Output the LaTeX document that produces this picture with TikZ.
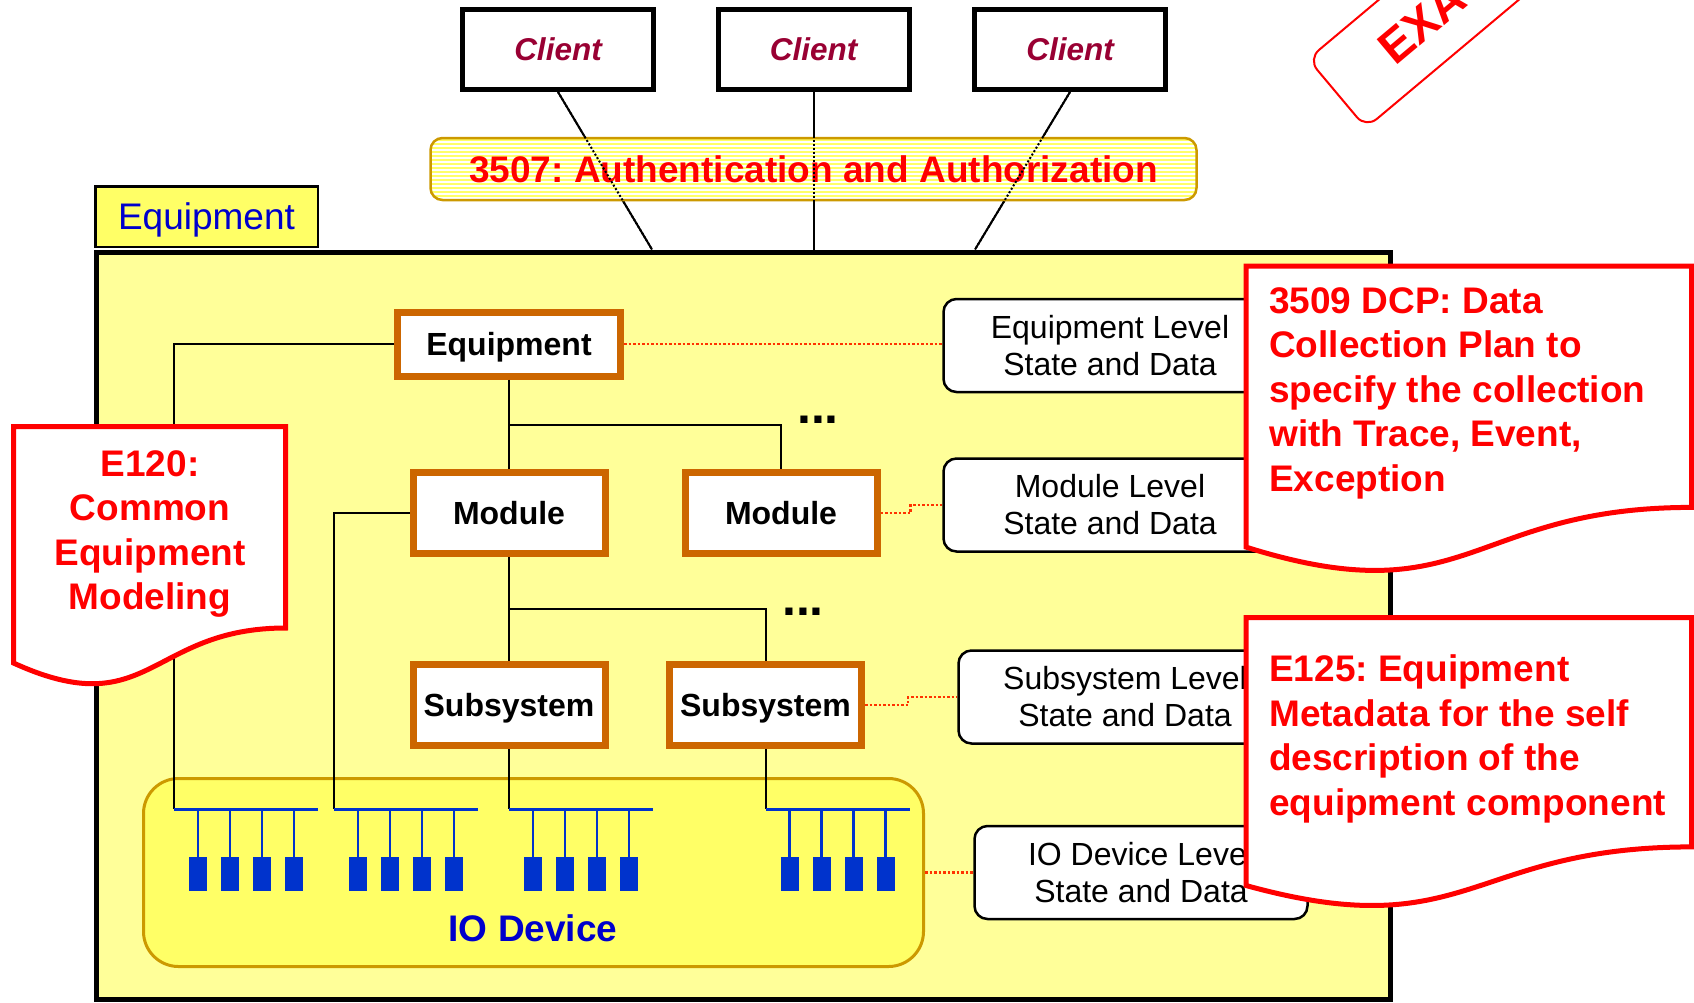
\documentclass[tikz,border=0pt]{standalone}
\usepackage{fontspec}
\setmainfont{Liberation Sans}
\usepackage{tikz}
\usetikzlibrary{positioning,calc}
\frenchspacing

\definecolor{frameyellow}{HTML}{FFFF99}
\definecolor{tabyellow}{HTML}{FFFF66}
\definecolor{goldline}{HTML}{CC9900}
\definecolor{nodeorange}{HTML}{CC6600}
\definecolor{clientred}{HTML}{990033}
\definecolor{notered}{HTML}{FF0000}
\definecolor{linkred}{HTML}{FF3300}
\definecolor{busblue}{HTML}{0033CC}
\definecolor{textblue}{HTML}{0000CC}

\tikzset{
  clientbox/.style={draw, line width=5, fill=white, minimum width=191, minimum height=80, text depth=0pt, text=clientred, font=\fontsize{31.5}{38}\selectfont\bfseries\itshape},
  partbox/.style={draw=nodeorange, line width=7, fill=white, minimum width=192, minimum height=81, text depth=0pt, font=\fontsize{32}{38}\selectfont\bfseries},
  lvlbox/.style={draw, line width=2.5, fill=white, rounded corners=13, minimum width=333, minimum height=93, align=center, font=\fontsize{32}{37}\selectfont},
  treeline/.style={line width=2},
  reddots/.style={draw=linkred, line width=2.5, dotted},
  notebox/.style={draw=notered, line width=5, fill=white},
  notetext/.style={text=notered, inner sep=0, font=\fontsize{37}{44.6}\selectfont\bfseries},
  iobus/.style={draw=busblue, line width=3},
  iostem/.style={draw=busblue, line width=2.5},
  moredots/.style={anchor=base, font=\fontsize{50}{50}\selectfont\bfseries},
}

\begin{document}
\begin{tikzpicture}[x=1pt, y=-1pt]
    \useasboundingbox (0,0) rectangle (1694,1002);
    \clip (0,0) rectangle (1694,1002);

    % Equipment frame
    \node [draw, line width=2.5, fill=tabyellow, minimum width=222.5, minimum height=60.5, anchor=south west, text depth=0pt, text=textblue, font=\fontsize{37}{44}\selectfont] (tab) at (94,248) {Equipment};
    \node [draw, line width=5, fill=frameyellow, minimum width=1294.5, minimum height=747.5, anchor=north west] (frame) at (93.5,249.5) {};

    % Clients
    \node [clientbox] (c1) at (558,49.5) {Client};
    \node [clientbox] (c2) at (813.5,49.5) {Client};
    \node [clientbox] (c3) at (1070,49.5) {Client};
    \coordinate (t1) at (652,249.5);
    \coordinate (t2) at (813.5,249.5);
    \coordinate (t3) at (975,249.5);
    \foreach \i in {1,2,3} \draw [line width=2] (c\i.south) -- (t\i);

    % Authentication layer
    \node [draw=goldline, line width=2.5, fill=tabyellow, rounded corners=12, minimum width=766, minimum height=62, text=notered, font=\fontsize{37}{44}\selectfont\bfseries,
           path picture={\foreach \k in {0,...,16} \draw [white, line width=1.2] ([yshift=-4*\k]path picture bounding box.north west) -- ([yshift=-4*\k]path picture bounding box.north east);}] (auth) at (813.5,169) {3507: Authentication and Authorization};
    \foreach \i in {1,2,3} \draw [line width=2, dotted] (c\i.south) -- (t\i);

    % IO devices
    \node [draw=goldline, line width=3, fill=tabyellow, rounded corners=35, minimum width=780, minimum height=188] (iobox) at (533.5,872.5) {};
    \node [text=textblue, font=\fontsize{37}{44}\selectfont\bfseries] (iolabel) at (533,928) {IO Device};

    % Equipment tree
    \node [partbox, minimum width=223, minimum height=64] (equip) at (509,344) {Equipment};
    \node [partbox] (mod1) at (509,513) {Module};
    \node [partbox] (mod2) at (781,513) {Module};
    \node [partbox] (sub1) at (509,705) {Subsystem};
    \node [partbox] (sub2) at (765.5,705) {Subsystem};
    \coordinate (j1) at (509,425);
    \coordinate (j2) at (509,609);
    \draw [treeline] (equip.south) -- (mod1.north);
    \draw [treeline] (j1) -| (mod2.north);
    \draw [treeline] (mod1.south) -- (sub1.north);
    \draw [treeline] (j2) -| (sub2.north);
    \node [moredots] (more1) at (818,423.5) {...};
    \node [moredots] (more2) at (803,615.5) {...};

    % Buses to the IO devices
    \coordinate (bus1) at (174,809);
    \coordinate (bus2) at (334,809);
    \coordinate (bus3) at (509,809);
    \coordinate (bus4) at (765.5,809);
    \draw [treeline] (equip.west) -| (bus1);
    \draw [treeline] (mod1.west) -| (bus2);
    \draw [treeline] (sub1.south) -- (bus3);
    \draw [treeline] (sub2.south) -- (bus4);
    \foreach \b in {1,...,4} {
        \draw [iobus] (bus\b) -- ++(144,0);
        \foreach \k in {24,56,88,120} {
            \draw [iostem] ($(bus\b)+(\k,0)$) -- ++(0,48);
            \fill [busblue] ($(bus\b)+(\k-9,48)$) rectangle ++(18,34);
        }
    }

    % State and data per level
    \node [lvlbox] (lvleq) at (1110,345.5) {Equipment Level\\State and Data};
    \node [lvlbox] (lvlmod) at (1110,505) {Module Level\\State and Data};
    \node [lvlbox] (lvlsub) at (1125,697) {Subsystem Level\\State and Data};
    \node [lvlbox] (lvlio) at (1141,872.5) {IO Device Level\\State and Data};
    \draw [reddots] (equip.east) -- (equip.east -| lvleq.west);
    \draw [reddots] (mod2.east) -- ++(30,0) |- (lvlmod.west);
    \draw [reddots] (sub2.east) -- ++(43,0) |- (lvlsub.west);
    \draw [reddots] (iobox.east) -- (lvlio.west);

    % Standards notes
    \draw [notebox] (13.5,426.5) -- (285.5,426.5) -- (285.5,628) .. controls (149.5,628) and (149.5,725) .. (13.5,663) -- cycle;
    \node [notetext, align=center, anchor=north] (e120) at (150,450) {E120:\\Common\\Equipment\\Modeling};

    \draw [notebox] (1246,266) -- (1691.5,266) -- (1691.5,507.4) .. controls (1468.8,507.4) and (1468.8,617) .. (1246,547.1) -- cycle;
    \node [notetext, align=left, anchor=north west] (dcp) at (1269,287) {3509 DCP: Data\\Collection Plan to\\specify the collection\\with Trace, Event,\\Exception};

    \draw [notebox] (1246,617.5) -- (1691.5,617.5) -- (1691.5,846.9) .. controls (1468.8,846.9) and (1468.8,947) .. (1246,885.5) -- cycle;
    \node [notetext, align=left, anchor=north west] (e125) at (1269,654.5) {E125: Equipment\\Metadata for the self\\description of the\\equipment component};

    % Stamp
    \begin{scope}[shift={(1366,128)}, rotate=40]
        \draw [notered, line width=2, rounded corners=14] (0,0) rectangle (340,-90);
        \node [text=notered, inner sep=0, anchor=base west, rotate=40, font=\fontsize{47}{47}\selectfont\bfseries] (stampword) at (62,-28) {EXA};
    \end{scope}
\end{tikzpicture}
\end{document}
